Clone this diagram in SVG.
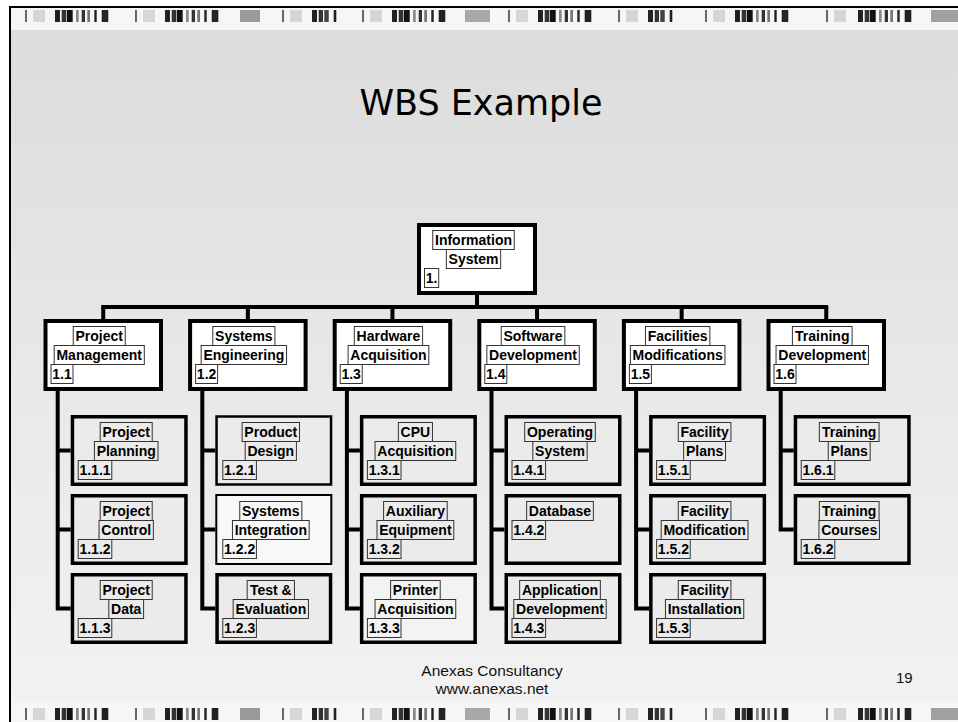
<svg xmlns="http://www.w3.org/2000/svg" xmlns:xlink="http://www.w3.org/1999/xlink" width="958" height="722" viewBox="0 0 958 722">
<style>
.n1{fill:#fff;stroke:#000;stroke-width:4}
.n2{fill:#ebebeb;stroke:#000;stroke-width:3.5}
.lb{fill:none;stroke:#333;stroke-width:1}
.t{font-family:"Liberation Sans",Arial,sans-serif;font-weight:bold;font-size:14px;fill:#000}
.m{text-anchor:middle}
.c{fill:none;stroke:#000;stroke-width:4;stroke-linejoin:miter}
.ft{font-family:"Liberation Sans",Arial,sans-serif;font-size:15.5px;fill:#111}
</style>
<defs>
<linearGradient id="bg" x1="0" y1="0" x2="0" y2="1">
<stop offset="0" stop-color="#dcdcdc"/>
<stop offset="0.55" stop-color="#e9e9e9"/>
<stop offset="1" stop-color="#f2f2f2"/>
</linearGradient>
<g id="cl">
<rect x="0" y="0" width="5" height="12" fill="#222"/>
<rect x="6.7" y="0" width="4.3" height="12" fill="#333"/>
<rect x="11.7" y="0" width="6" height="12" fill="#111"/>
<rect x="21" y="0" width="2.7" height="12" fill="#888"/>
<rect x="26.7" y="0" width="3.3" height="12" fill="#333"/>
<rect x="32.3" y="0" width="2.7" height="12" fill="#777"/>
<rect x="39.3" y="0" width="2.4" height="12" fill="#222"/>
<rect x="46.7" y="0" width="6.6" height="12" fill="#222"/>
</g>
<g id="cs">
<rect x="0" y="0" width="5" height="12" fill="#222"/>
<rect x="6.7" y="0" width="4.3" height="12" fill="#333"/>
<rect x="12.3" y="0" width="4.4" height="12" fill="#444"/>
<rect x="21.7" y="0" width="2.6" height="12" fill="#222"/>
</g>
<g id="th">
<rect x="0" y="0" width="2" height="12" fill="#666"/>
<rect x="8" y="0" width="12" height="12" fill="#d6d6d6"/>
</g>
<g id="bc">
<use xlink:href="#th" x="25"/><use xlink:href="#th" x="135"/><use xlink:href="#th" x="282"/><use xlink:href="#th" x="362"/>
<use xlink:href="#th" x="508"/><use xlink:href="#th" x="618"/><use xlink:href="#th" x="705"/><use xlink:href="#th" x="826"/>
<use xlink:href="#cl" x="55"/><use xlink:href="#cl" x="165"/><use xlink:href="#cl" x="392"/><use xlink:href="#cl" x="538"/>
<use xlink:href="#cl" x="735"/><use xlink:href="#cl" x="858"/>
<use xlink:href="#cs" x="312"/><use xlink:href="#cs" x="648"/>
<rect x="240" y="0" width="20" height="12" fill="#9a9a9a"/>
<rect x="465" y="0" width="25" height="12" fill="#a8a8a8"/>
<rect x="931" y="0" width="27" height="12" fill="#a0a0a0"/>
</g>
</defs>

<!-- background -->
<rect x="0" y="0" width="958" height="722" fill="#fff"/>
<rect x="10" y="7" width="948" height="23" fill="#f6f6f6"/>
<rect x="10" y="30" width="948" height="672" fill="url(#bg)"/>
<rect x="10" y="702" width="948" height="20" fill="#f6f6f6"/>
<use xlink:href="#bc" y="10"/>
<use xlink:href="#bc" y="708"/>
<rect x="10" y="7" width="1000" height="800" fill="none" stroke="#000" stroke-width="2"/>

<!-- title -->
<text x="481" y="115" font-family="'DejaVu Sans',Verdana,sans-serif" font-size="35" text-anchor="middle" fill="#000">WBS Example</text>

<!-- connectors -->
<g id="connectors" class="c">
<path d="M477 295V307"/>
<path d="M101.25 307H828.25"/>
<path d="M103.25 307V319M247.85 307V319M392.45 307V319M537.05 307V319M681.65 307V319M826.25 307V319"/>
<path d="M57.7 391V608.5H70.7M57.7 450.5H70.7M57.7 529.5H70.7"/>
<path d="M202.3 391V608.5H215.3M202.3 450.5H215.3M202.3 529.5H215.3"/>
<path d="M346.9 391V608.5H359.9M346.9 450.5H359.9M346.9 529.5H359.9"/>
<path d="M491.5 391V608.5H504.5M491.5 450.5H504.5M491.5 529.5H504.5"/>
<path d="M636.1 391V608.5H649.1M636.1 450.5H649.1M636.1 529.5H649.1"/>
<path d="M780.7 391V529.5H793.7M780.7 450.5H793.7"/>
</g>

<!-- root -->
<g id="n1">
<rect class="n1" x="419" y="225" width="116" height="68"/>
<rect class="lb" x="432.75" y="230.5" width="81.5" height="19"/><text class="t m" x="473.5" y="245.3">Information</text>
<rect class="lb" x="446.35" y="249.5" width="54.3" height="19"/><text class="t m" x="473.5" y="264.3">System</text>
<rect class="lb" x="424.5" y="268.5" width="14.2" height="19"/><text class="t" x="425.75" y="283.3">1.</text>
</g>

<!-- level 1 -->
<g id="n1.1">
<rect class="n1" x="45.5" y="321" width="115.5" height="68"/>
<rect class="lb" x="73.25" y="326.5" width="52" height="19"/><text class="t m" x="99.25" y="341.3">Project</text>
<rect class="lb" x="54.2" y="345.5" width="90.1" height="19"/><text class="t m" x="99.25" y="360.3">Management</text>
<rect class="lb" x="51" y="364.5" width="22" height="19"/><text class="t" x="52.25" y="379.3">1.1</text>
</g>
<g id="n1.2">
<rect class="n1" x="190.1" y="321" width="115.5" height="68"/>
<rect class="lb" x="212.8" y="326.5" width="62.1" height="19"/><text class="t m" x="243.85" y="341.3">Systems</text>
<rect class="lb" x="201.15" y="345.5" width="85.4" height="19"/><text class="t m" x="243.85" y="360.3">Engineering</text>
<rect class="lb" x="195.6" y="364.5" width="22" height="19"/><text class="t" x="196.85" y="379.3">1.2</text>
</g>
<g id="n1.3">
<rect class="n1" x="334.7" y="321" width="115.5" height="68"/>
<rect class="lb" x="354.3" y="326.5" width="68.3" height="19"/><text class="t m" x="388.45" y="341.3">Hardware</text>
<rect class="lb" x="348.1" y="345.5" width="80.7" height="19"/><text class="t m" x="388.45" y="360.3">Acquisition</text>
<rect class="lb" x="340.2" y="364.5" width="22" height="19"/><text class="t" x="341.45" y="379.3">1.3</text>
</g>
<g id="n1.4">
<rect class="n1" x="479.3" y="321" width="115.5" height="68"/>
<rect class="lb" x="501.25" y="326.5" width="63.6" height="19"/><text class="t m" x="533.05" y="341.3">Software</text>
<rect class="lb" x="486.85" y="345.5" width="92.4" height="19"/><text class="t m" x="533.05" y="360.3">Development</text>
<rect class="lb" x="484.8" y="364.5" width="22" height="19"/><text class="t" x="486.05" y="379.3">1.4</text>
</g>
<g id="n1.5">
<rect class="n1" x="623.9" y="321" width="115.5" height="68"/>
<rect class="lb" x="645.45" y="326.5" width="64.4" height="19"/><text class="t m" x="677.65" y="341.3">Facilities</text>
<rect class="lb" x="630.35" y="345.5" width="94.6" height="19"/><text class="t m" x="677.65" y="360.3">Modifications</text>
<rect class="lb" x="629.4" y="364.5" width="22" height="19"/><text class="t" x="630.65" y="379.3">1.5</text>
</g>
<g id="n1.6">
<rect class="n1" x="768.5" y="321" width="115.5" height="68"/>
<rect class="lb" x="792.4" y="326.5" width="59.7" height="19"/><text class="t m" x="822.25" y="341.3">Training</text>
<rect class="lb" x="776.05" y="345.5" width="92.4" height="19"/><text class="t m" x="822.25" y="360.3">Development</text>
<rect class="lb" x="774" y="364.5" width="22" height="19"/><text class="t" x="775.25" y="379.3">1.6</text>
</g>

<!-- level 2: column 1 -->
<g id="n1.1.1">
<rect class="n2" x="72.45" y="416.75" width="113.5" height="67.5"/>
<rect class="lb" x="100.2" y="422.5" width="52" height="19"/><text class="t m" x="126.2" y="437.3">Project</text>
<rect class="lb" x="94.4" y="441.5" width="63.6" height="19"/><text class="t m" x="126.2" y="456.3">Planning</text>
<rect class="lb" x="78.2" y="460.5" width="33.6" height="19"/><text class="t" x="79.45" y="475.3">1.1.1</text>
</g>
<g id="n1.1.2">
<rect class="n2" x="72.45" y="495.75" width="113.5" height="67.5"/>
<rect class="lb" x="100.2" y="501.5" width="52" height="19"/><text class="t m" x="126.2" y="516.3">Project</text>
<rect class="lb" x="99.05" y="520.5" width="54.3" height="19"/><text class="t m" x="126.2" y="535.3">Control</text>
<rect class="lb" x="78.2" y="539.5" width="33.6" height="19"/><text class="t" x="79.45" y="554.3">1.1.2</text>
</g>
<g id="n1.1.3">
<rect class="n2" x="72.45" y="574.75" width="113.5" height="67.5"/>
<rect class="lb" x="100.2" y="580.5" width="52" height="19"/><text class="t m" x="126.2" y="595.3">Project</text>
<rect class="lb" x="108.8" y="599.5" width="34.8" height="19"/><text class="t m" x="126.2" y="614.3">Data</text>
<rect class="lb" x="78.2" y="618.5" width="33.6" height="19"/><text class="t" x="79.45" y="633.3">1.1.3</text>
</g>

<!-- column 2 -->
<g id="n1.2.1">
<rect class="n2" x="216.55" y="416.5" width="114.5" height="68" style="stroke-width:2.5"/>
<rect class="lb" x="242.1" y="422.5" width="57.4" height="19"/><text class="t m" x="270.8" y="437.3">Product</text>
<rect class="lb" x="245.2" y="441.5" width="51.2" height="19"/><text class="t m" x="270.8" y="456.3">Design</text>
<rect class="lb" x="222.8" y="460.5" width="33.6" height="19"/><text class="t" x="224.05" y="475.3">1.2.1</text>
</g>
<g id="n1.2.2">
<rect class="n2" x="216.3" y="495" width="115" height="69" style="stroke-width:2;fill:#f8f8f8"/>
<rect class="lb" x="239.75" y="501.5" width="62.1" height="19"/><text class="t m" x="270.8" y="516.3">Systems</text>
<rect class="lb" x="232.45" y="520.5" width="76.7" height="19"/><text class="t m" x="270.8" y="535.3">Integration</text>
<rect class="lb" x="222.8" y="539.5" width="33.6" height="19"/><text class="t" x="224.05" y="554.3">1.2.2</text>
</g>
<g id="n1.2.3">
<rect class="n2" x="217.05" y="574.75" width="113.5" height="67.5"/>
<rect class="lb" x="247.15" y="580.5" width="47.3" height="19"/><text class="t m" x="270.8" y="595.3">Test &amp;</text>
<rect class="lb" x="233.15" y="599.5" width="75.3" height="19"/><text class="t m" x="270.8" y="614.3">Evaluation</text>
<rect class="lb" x="222.8" y="618.5" width="33.6" height="19"/><text class="t" x="224.05" y="633.3">1.2.3</text>
</g>

<!-- column 3 -->
<g id="n1.3.1">
<rect class="n2" x="361.65" y="416.75" width="113.5" height="67.5"/>
<rect class="lb" x="398.35" y="422.5" width="34.1" height="19"/><text class="t m" x="415.4" y="437.3">CPU</text>
<rect class="lb" x="375.05" y="441.5" width="80.7" height="19"/><text class="t m" x="415.4" y="456.3">Acquisition</text>
<rect class="lb" x="367.4" y="460.5" width="33.6" height="19"/><text class="t" x="368.65" y="475.3">1.3.1</text>
</g>
<g id="n1.3.2">
<rect class="n2" x="361.65" y="495.75" width="113.5" height="67.5"/>
<rect class="lb" x="383.6" y="501.5" width="63.6" height="19"/><text class="t m" x="415.4" y="516.3">Auxiliary</text>
<rect class="lb" x="377" y="520.5" width="76.8" height="19"/><text class="t m" x="415.4" y="535.3">Equipment</text>
<rect class="lb" x="367.4" y="539.5" width="33.6" height="19"/><text class="t" x="368.65" y="554.3">1.3.2</text>
</g>
<g id="n1.3.3">
<rect class="n2" x="361.65" y="574.75" width="113.5" height="67.5" style="fill:#f3f3f3"/>
<rect class="lb" x="390.6" y="580.5" width="49.6" height="19"/><text class="t m" x="415.4" y="595.3">Printer</text>
<rect class="lb" x="375.05" y="599.5" width="80.7" height="19"/><text class="t m" x="415.4" y="614.3">Acquisition</text>
<rect class="lb" x="367.4" y="618.5" width="33.6" height="19"/><text class="t" x="368.65" y="633.3">1.3.3</text>
</g>

<!-- column 4 -->
<g id="n1.4.1">
<rect class="n2" x="506.25" y="416.75" width="113.5" height="67.5"/>
<rect class="lb" x="524.7" y="422.5" width="70.6" height="19"/><text class="t m" x="560" y="437.3">Operating</text>
<rect class="lb" x="532.85" y="441.5" width="54.3" height="19"/><text class="t m" x="560" y="456.3">System</text>
<rect class="lb" x="512" y="460.5" width="33.6" height="19"/><text class="t" x="513.25" y="475.3">1.4.1</text>
</g>
<g id="n1.4.2">
<rect class="n2" x="506.25" y="495.75" width="113.5" height="67.5"/>
<rect class="lb" x="526.65" y="501.5" width="66.7" height="19"/><text class="t m" x="560" y="516.3">Database</text>
<rect class="lb" x="512" y="520.5" width="33.6" height="19"/><text class="t" x="513.25" y="535.3">1.4.2</text>
</g>
<g id="n1.4.3">
<rect class="n2" x="506.25" y="574.75" width="113.5" height="67.5"/>
<rect class="lb" x="519.65" y="580.5" width="80.7" height="19"/><text class="t m" x="560" y="595.3">Application</text>
<rect class="lb" x="513.8" y="599.5" width="92.4" height="19"/><text class="t m" x="560" y="614.3">Development</text>
<rect class="lb" x="512" y="618.5" width="33.6" height="19"/><text class="t" x="513.25" y="633.3">1.4.3</text>
</g>

<!-- column 5 -->
<g id="n1.5.1">
<rect class="n2" x="650.85" y="416.75" width="113.5" height="67.5"/>
<rect class="lb" x="678.25" y="422.5" width="52.7" height="19"/><text class="t m" x="704.6" y="437.3">Facility</text>
<rect class="lb" x="683.65" y="441.5" width="41.9" height="19"/><text class="t m" x="704.6" y="456.3">Plans</text>
<rect class="lb" x="656.6" y="460.5" width="33.6" height="19"/><text class="t" x="657.85" y="475.3">1.5.1</text>
</g>
<g id="n1.5.2">
<rect class="n2" x="650.85" y="495.75" width="113.5" height="67.5"/>
<rect class="lb" x="678.25" y="501.5" width="52.7" height="19"/><text class="t m" x="704.6" y="516.3">Facility</text>
<rect class="lb" x="661.2" y="520.5" width="86.8" height="19"/><text class="t m" x="704.6" y="535.3">Modification</text>
<rect class="lb" x="656.6" y="539.5" width="33.6" height="19"/><text class="t" x="657.85" y="554.3">1.5.2</text>
</g>
<g id="n1.5.3">
<rect class="n2" x="650.85" y="574.75" width="113.5" height="67.5"/>
<rect class="lb" x="678.25" y="580.5" width="52.7" height="19"/><text class="t m" x="704.6" y="595.3">Facility</text>
<rect class="lb" x="665.45" y="599.5" width="78.3" height="19"/><text class="t m" x="704.6" y="614.3">Installation</text>
<rect class="lb" x="656.6" y="618.5" width="33.6" height="19"/><text class="t" x="657.85" y="633.3">1.5.3</text>
</g>

<!-- column 6 -->
<g id="n1.6.1">
<rect class="n2" x="795.45" y="416.75" width="113.5" height="67.5"/>
<rect class="lb" x="819.35" y="422.5" width="59.7" height="19"/><text class="t m" x="849.2" y="437.3">Training</text>
<rect class="lb" x="828.25" y="441.5" width="41.9" height="19"/><text class="t m" x="849.2" y="456.3">Plans</text>
<rect class="lb" x="801.2" y="460.5" width="33.6" height="19"/><text class="t" x="802.45" y="475.3">1.6.1</text>
</g>
<g id="n1.6.2">
<rect class="n2" x="795.45" y="495.75" width="113.5" height="67.5"/>
<rect class="lb" x="819.35" y="501.5" width="59.7" height="19"/><text class="t m" x="849.2" y="516.3">Training</text>
<rect class="lb" x="818.95" y="520.5" width="60.5" height="19"/><text class="t m" x="849.2" y="535.3">Courses</text>
<rect class="lb" x="801.2" y="539.5" width="33.6" height="19"/><text class="t" x="802.45" y="554.3">1.6.2</text>
</g>

<!-- footer -->
<text class="ft" x="492" y="676" text-anchor="middle">Anexas Consultancy</text>
<text class="ft" x="492" y="694" text-anchor="middle">www.anexas.net</text>
<text class="ft" x="896" y="683" style="font-size:15px">19</text>
</svg>
